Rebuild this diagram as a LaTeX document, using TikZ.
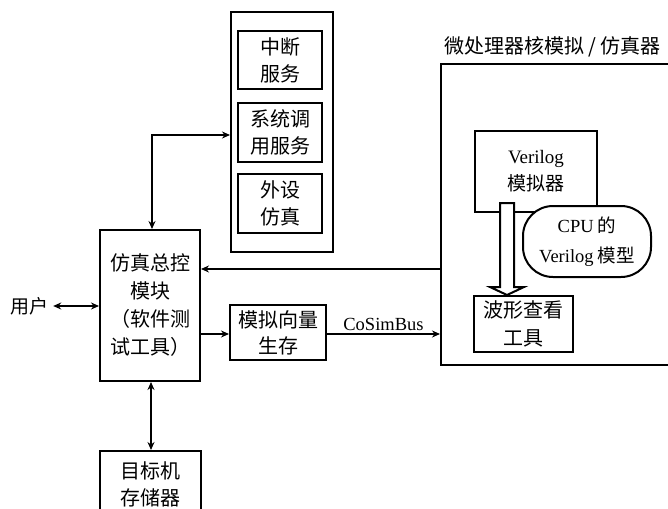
\documentclass[tikz,border=0pt]{standalone}
\usepackage{fontspec}
\setmainfont{Noto Sans CJK SC}
\newfontfamily\lat{Liberation Serif}
\usetikzlibrary{arrows.meta}
\begin{document}
\begin{tikzpicture}[x=1pt,y=-1pt,
  box/.style={draw,line width=2pt,align=center,inner sep=0pt,
    font=\fontsize{20}{27}\selectfont},
  lbl/.style={inner sep=0pt,font=\fontsize{19}{24}\selectfont},
  biarrow/.style={line width=2pt,{Stealth[length=8pt,width=7pt]}-{Stealth[length=8pt,width=7pt]}},
  uniarrow/.style={line width=2pt,-{Stealth[length=8pt,width=7pt]}}
]
\useasboundingbox (0,0) rectangle (668,508);
\fill[white] (0,0) rectangle (668,508);

% service column
\node[box,minimum width=102pt,minimum height=240pt] (svc) at (282,132) {};
\node[box,minimum width=84pt,minimum height=58pt] (irq) at (280,60) {中断\\服务};
\node[box,minimum width=84pt,minimum height=59pt] (sys) at (280,132.5) {系统调\\用服务};
\node[box,minimum width=84pt,minimum height=59pt] (per) at (280,203.5) {外设\\仿真};

% main control
\node[box,minimum width=100pt,minimum height=151pt,font=\fontsize{20}{28}\selectfont] (main) at (150,305.5) {仿真总控\\模块\\（软件测\\试工具）};
\node[lbl] (user) at (29,306) {用户};
\node[box,minimum width=96pt,minimum height=55pt,font=\fontsize{20}{26}\selectfont] (vec) at (278,332.5) {模拟向量\\生存};
\node[box,minimum width=101pt,minimum height=67pt,font=\fontsize{20}{27}\selectfont] (mem) at (150.5,484.5) {目标机\\存储器};

% simulator
\node[box,minimum width=249pt,minimum height=301pt] (big) at (565.5,214.5) {};
\node[lbl,anchor=west,font=\fontsize{20}{24}\selectfont] (title) at (444,47) {微处理器核模拟\hspace{4pt}/\hspace{4pt}仿真器};
\node[box,minimum width=122pt,minimum height=81pt,font=\fontsize{19}{27}\selectfont] (vsim) at (536,171.5) {{\lat Verilog}\\模拟器};
\node[box,minimum width=128pt,minimum height=71pt,rounded corners=30pt,fill=white,font=\fontsize{18.5}{30}\selectfont] (cpu) at (587,241.5) {{\lat CPU} 的\\{\lat Verilog} 模型};
\node[box,minimum width=99pt,minimum height=56pt,font=\fontsize{20}{28}\selectfont] (wave) at (523.5,324) {波形查看\\工具};

% hollow arrow
\draw[line width=2pt,fill=white,line join=miter]
  (500,203) -- (500,287) -- (490,287) -- (wave.north -| 507,0) -- (524,287) -- (514,287) -- (514,203) -- cycle;

% connectors
\coordinate (bend) at (152,135);
\draw[biarrow] ([xshift=2pt]main.north) |- (svc.west |- bend);
\draw[biarrow] (user.east) ++(5,0) coordinate (ue) (ue) -- (main.west |- user);
\draw[uniarrow] (main.east |- 0,334) -- (vec.west |- 0,334);
\draw[uniarrow] (vec.east |- 0,334) -- (big.west |- 0,334)
  node[midway,above=2pt,inner sep=0pt,font=\lat\fontsize{18.5}{22}\selectfont] {CoSimBus};
\draw[uniarrow] (big.west |- 0,269) -- (main.east |- 0,269);
\draw[biarrow] ([xshift=1pt]main.south) -- ([xshift=0.5pt]mem.north);
\end{tikzpicture}
\end{document}
